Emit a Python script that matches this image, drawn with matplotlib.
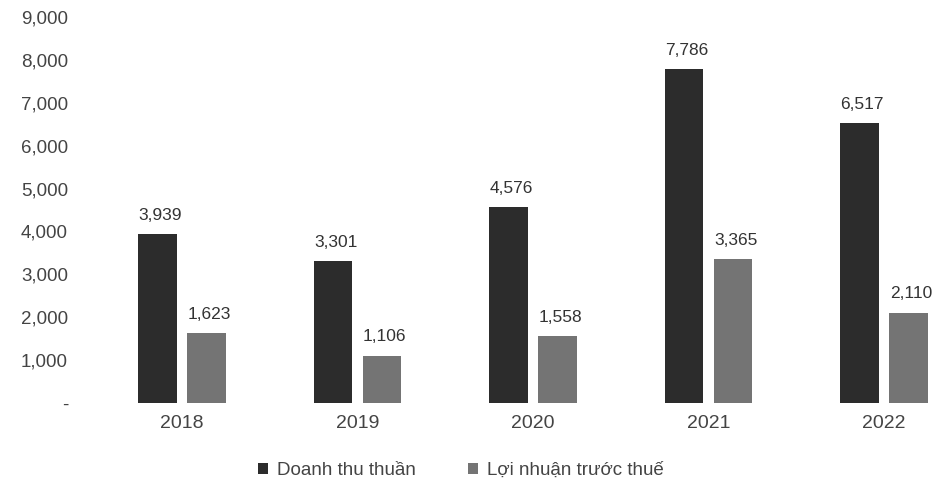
import numpy as np
import matplotlib.pyplot as plt
from matplotlib.ticker import FuncFormatter

plt.rcParams['font.family'] = ['Liberation Sans', 'DejaVu Sans']

years = ['2018', '2019', '2020', '2021', '2022']
doanh_thu = [3939, 3301, 4576, 7786, 6517]
loi_nhuan = [1623, 1106, 1558, 3365, 2110]

fig = plt.figure(figsize=(9.41, 4.84), dpi=100)
ax = fig.add_axes([75/941, 81/484, 866/941, 386/484])

x = np.arange(len(years))
w = 0.22
off = 0.14
b1 = ax.bar(x - off, doanh_thu, w, color='#2c2c2c', label='Doanh thu thuần')
b2 = ax.bar(x + off, loi_nhuan, w, color='#747474', label='Lợi nhuận trước thuế')

for bars in (b1, b2):
    for b in bars:
        h = b.get_height()
        ax.annotate(f'{h:,.0f}', (b.get_x() + b.get_width()/2, h),
                    xytext=(2, 8), textcoords='offset points',
                    ha='center', va='bottom', fontsize=12.5, color='#333333')

ax.set_ylim(0, 9000)
ax.set_xlim(-0.61, 4.325)
ax.set_yticks(np.arange(0, 9001, 1000))
ax.yaxis.set_major_formatter(FuncFormatter(lambda v, p: '-' if v == 0 else f'{v:,.0f}'))
ax.set_xticks(x)
ax.set_xticklabels(years)
ax.tick_params(length=0, labelcolor='#444444')
ax.tick_params(axis='y', pad=5, labelsize=13.5)
ax.tick_params(axis='x', pad=9, labelsize=14)
for s in ax.spines.values():
    s.set_visible(False)

fig.legend(loc='lower center', bbox_to_anchor=(0.49, -0.025), ncol=2, frameon=False,
           fontsize=13.5, handlelength=0.5, handleheight=0.5, handletextpad=0.5,
           columnspacing=2.8, labelcolor='#444444')

fig.savefig('out.png', dpi=100, facecolor='white')
